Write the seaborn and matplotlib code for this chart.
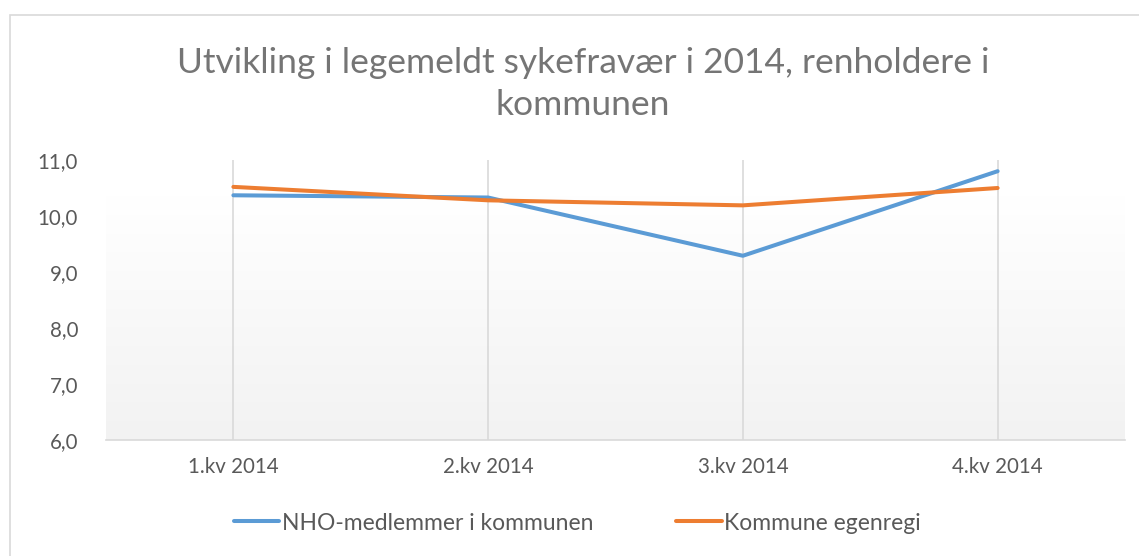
import numpy as np
import pandas as pd
import matplotlib
matplotlib.use("Agg")
import matplotlib.pyplot as plt
import seaborn as sns
from matplotlib.patches import Rectangle

# ----------------------------------------------------------
# DATA
# ----------------------------------------------------------

quarters = ["1.kv 2014", "2.kv 2014", "3.kv 2014", "4.kv 2014"]
nho_values = [10.37, 10.33, 9.29, 10.80]
kommune_values = [10.52, 10.28, 10.19, 10.50]
series_names = ["NHO-medlemmer i kommunen", "Kommune egenregi"]
y_ticks = [6.0, 7.0, 8.0, 9.0, 10.0, 11.0]

df = pd.DataFrame({
    "Kvartal": quarters * 2,
    "Verdi": nho_values + kommune_values,
    "Serie": [series_names[0]] * 4 + [series_names[1]] * 4,
})
df["pos"] = list(range(len(quarters))) * 2

# ----------------------------------------------------------
# PLOT
# ----------------------------------------------------------

sns.set_theme(style="white")
plt.rcParams["font.family"] = ["Lato", "DejaVu Sans"]

fig = plt.figure(figsize=(11.39, 5.56), dpi=100)
ax = fig.add_axes([106 / 1139, 116 / 556, 1019 / 1139, 280 / 556])

# outer chart border
fig.patches.append(Rectangle((10 / 1139, -0.01), 1.05, (541 / 556) + 0.01,
                             transform=fig.transFigure, fill=False,
                             edgecolor="#d9d9d9", linewidth=1.2, zorder=0))

# gradient background of plot area
grad = np.linspace(1.0, 0.0, 256).reshape(-1, 1)
ax.imshow(grad, extent=[0, 1, 0, 0.87], transform=ax.transAxes,
          cmap=matplotlib.colors.LinearSegmentedColormap.from_list(
              "g", ["#f2f2f2", "#ffffff"]),
          aspect="auto", zorder=0)

for i in range(len(quarters)):
    ax.axvline(i, color="#d9d9d9", linewidth=1.2, zorder=1)

sns.lineplot(
    data=df, x="pos", y="Verdi", hue="Serie",
    palette=["#5b9bd5", "#ed7d31"], linewidth=2.9,
    ax=ax, legend=False, zorder=3,
)

ax.set_xlim(-0.5, len(quarters) - 0.5)
ax.set_ylim(6.0, 11.0)
ax.set_xticks(range(len(quarters)))
ax.set_xticklabels(quarters)
ax.set_yticks(y_ticks)
ax.set_yticklabels([f"{v:.1f}".replace(".", ",") for v in y_ticks])
ax.set_xlabel("")
ax.set_ylabel("")
ax.tick_params(axis="both", length=0, labelsize=14.8, colors="#595959")
ax.tick_params(axis="y", pad=20)
ax.tick_params(axis="x", pad=12)

for side in ["top", "right", "left"]:
    ax.spines[side].set_visible(False)
ax.spines["bottom"].set_color("#d9d9d9")
ax.spines["bottom"].set_linewidth(1.2)

fig.text(583 / 1139, 1 - 84 / 556,
         "Utvikling i legemeldt sykefravær i 2014, renholdere i\nkommunen",
         ha="center", va="center", fontsize=25.5, color="#757575",
         linespacing=1.42)

handles = [
    plt.Line2D([], [], color="#5b9bd5", linewidth=2.9),
    plt.Line2D([], [], color="#ed7d31", linewidth=2.9),
]
fig.legend(handles, series_names, loc="center", ncol=2,
           bbox_to_anchor=(577 / 1139, 1 - 523 / 556), frameon=False,
           prop={"size": 16.5},
           labelcolor="#595959", handlelength=2.0,
           handletextpad=0.1, columnspacing=3.6)

fig.savefig("out.png", dpi=100)
